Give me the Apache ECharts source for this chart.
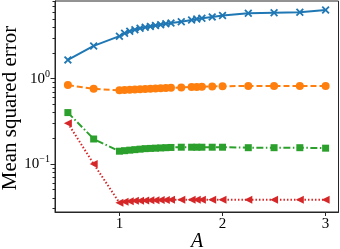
<!DOCTYPE html>
<html><head><meta charset="utf-8">
<script src="https://cdn.jsdelivr.net/npm/echarts@6/dist/echarts.min.js"></script>
<style>html,body{margin:0;padding:0;background:#fff}#c{width:340px;height:249px}</style>
</head><body><div id="c"></div>
<script>
var xs = [0.5,0.75,1.0,1.05,1.1,1.15,1.2,1.25,1.3,1.35,1.4,1.45,1.5,1.6,1.7,1.75,1.8,1.9,2.0,2.25,2.5,2.75,3.0];
var blueVals = [1.66,2.42,3.15,3.4,3.6,3.75,3.9,4.0,4.1,4.2,4.3,4.4,4.48,4.66,4.88,5.0,5.1,5.3,5.5,5.84,5.94,6.0,6.39];
var orangeVals = [0.84,0.76,0.73,0.735,0.74,0.745,0.75,0.755,0.76,0.765,0.77,0.775,0.78,0.79,0.80,0.80,0.805,0.81,0.815,0.82,0.82,0.82,0.82];
var greenVals = [0.40,0.196,0.141,0.143,0.145,0.147,0.149,0.151,0.152,0.153,0.154,0.155,0.156,0.157,0.157,0.157,0.157,0.157,0.157,0.155,0.155,0.155,0.153];
var redVals = [0.30,0.10,0.035,0.036,0.0365,0.037,0.037,0.0372,0.0374,0.0376,0.0377,0.0378,0.038,0.038,0.038,0.038,0.038,0.038,0.038,0.038,0.038,0.038,0.038];
var xTicks = [1,2,3];
var yTicks = [0.1,1];
var yMinorTicks = [0.03,0.04,0.05,0.06,0.07,0.08,0.09,0.2,0.3,0.4,0.5,0.6,0.7,0.8,0.9,2,3,4,5,6,7,8];
var yLabels = {'0.1':'{b|10}{s|−1}','1':'{b|10}{s|0}'};
var xName = 'A';
var yName = 'Mean squared error';

function pairs(v){return xs.map(function(x,i){return [x,v[i]];});}
var font = 'Liberation Serif';
var frame = '#262626';
var xPath = 'path://M0,1.6 L1.6,0 L5,3.4 L8.4,0 L10,1.6 L6.6,5 L10,8.4 L8.4,10 L5,6.6 L1.6,10 L0,8.4 L3.4,5 Z';

var chart = echarts.init(document.getElementById('c'));
chart.setOption({
  animation:false,
  grid:{left:55,right:1.5,top:1,bottom:37,show:true,borderColor:frame,borderWidth:1,backgroundColor:'transparent',
    containLabel:false,outerBoundsMode:'none'},
  graphic:[
    {type:'text',x:197,y:242,style:{text:xName,font:'italic 20px "Liberation Serif"',fill:'#000',align:'center',verticalAlign:'middle'}},
    {type:'text',x:10,y:108,rotation:Math.PI/2,style:{text:yName,font:'21px "Liberation Serif"',fill:'#000',align:'center',verticalAlign:'middle'}}
  ],
  xAxis:{type:'value',min:0.375,max:3.125,
    axisLine:{show:true,lineStyle:{color:frame,width:1}},
    axisTick:{show:true,customValues:xTicks,length:4,lineStyle:{color:frame}},
    axisLabel:{customValues:xTicks,fontFamily:font,fontSize:15,color:'#000',margin:5},
    splitLine:{show:false}},
  yAxis:[{type:'log',logBase:10,min:0.0273,max:8.14,
    axisLine:{show:true,lineStyle:{color:frame,width:1}},
    axisTick:{show:true,customValues:yTicks,length:4.5,lineStyle:{color:frame}},
    axisLabel:{customValues:yTicks,margin:5,
      formatter:function(v){var k=String(Math.round(v*10)/10);return yLabels[k]||'';},
      rich:{b:{fontFamily:font,fontSize:15,color:'#000'},s:{fontFamily:font,fontSize:10,color:'#000',padding:[0,0,9,0]}}},
    splitLine:{show:false}},
   {type:'log',logBase:10,min:0.0273,max:8.14,position:'left',
    axisLine:{show:false},
    axisTick:{show:true,customValues:yMinorTicks,length:2.5,lineStyle:{color:frame}},
    axisLabel:{show:false},splitLine:{show:false}}],
  series:[
    {type:'line',data:pairs(blueVals),symbol:xPath,symbolSize:8,
      lineStyle:{color:'#1f77b4',width:2},itemStyle:{color:'#1f77b4'}},
    {type:'line',data:pairs(orangeVals),symbol:'circle',symbolSize:8,
      lineStyle:{color:'#ff7f0e',width:2,type:[6,3]},itemStyle:{color:'#ff7f0e',borderWidth:0}},
    {type:'line',data:pairs(greenVals),symbol:'rect',symbolSize:7,
      lineStyle:{color:'#2ca02c',width:2,type:[7,2.5,1.5,2.5]},itemStyle:{color:'#2ca02c',borderWidth:0}},
    {type:'line',data:pairs(redVals),symbol:'triangle',symbolRotate:90,symbolSize:8,
      lineStyle:{color:'#d62728',width:2,type:[1.5,2]},itemStyle:{color:'#d62728',borderWidth:0}}
  ]
});
</script></body></html>
